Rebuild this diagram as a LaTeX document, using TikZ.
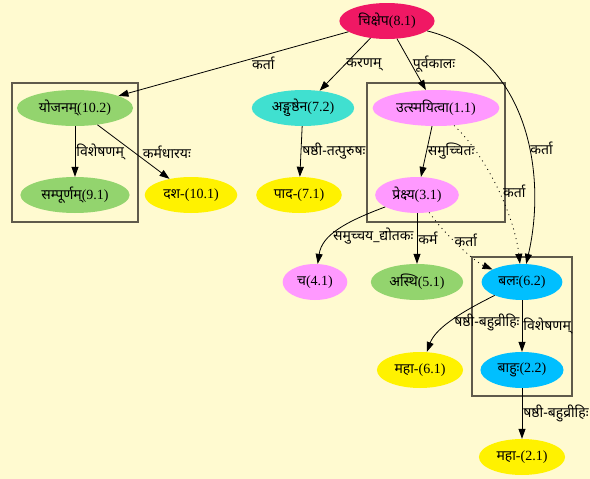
\documentclass[tikz,border=0pt]{standalone}
\usepackage{fontspec}
\setmainfont{Liberation Serif}
\newfontfamily\deva[Script=Devanagari]{Noto Sans}
\usetikzlibrary{shapes.geometric,arrows.meta}
\definecolor{bgyellow}{RGB}{255,250,208}
\definecolor{crimsonpink}{RGB}{240,24,100}
\definecolor{leafgreen}{RGB}{147,212,110}
\definecolor{turq}{RGB}{64,224,208}
\definecolor{violetpink}{RGB}{255,153,255}
\definecolor{skyblue}{RGB}{0,191,255}
\definecolor{clustergray}{RGB}{95,90,75}
\newcommand{\dv}[1]{{\deva #1}}
\tikzset{
  word/.style={ellipse, inner xsep=5pt, inner ysep=2pt, minimum height=36pt, font=\fontsize{14}{16}\selectfont},
  lbl/.style={font=\fontsize{14}{16}\selectfont, inner sep=1pt},
  rel/.style={-{Triangle[length=10pt,width=7pt]}, line width=0.8pt},
  dotrel/.style={rel, dash pattern=on 1pt off 4pt},
  cluster/.style={draw=clustergray, line width=1.2pt}
}
\begin{document}
\begin{tikzpicture}[x=1pt,y=-1pt]
\fill[bgyellow] (0,0) rectangle (590,479);
\useasboundingbox (0,0) rectangle (590,479);

\draw[cluster] (12,83) rectangle (138,222);
\draw[cluster] (367,83) rectangle (505,222);
\draw[cluster] (472,257) rectangle (572,396);

\node[word, fill=crimsonpink] (N81)  at (387,21)  {\dv{चिक्षेप}(8.1)};
\node[word, fill=leafgreen]   (N102) at (75,108)  {\dv{योजनम्}(10.2)};
\node[word, fill=turq]        (N72)  at (303,108) {\dv{अङ्गुष्ठेन}(7.2)};
\node[word, fill=violetpink]  (N11)  at (436,108) {\dv{उत्स्मयित्वा}(1.1)};
\node[word, fill=leafgreen]   (N91)  at (75,195)  {\dv{सम्पूर्णम्}(9.1)};
\node[word, fill=yellow]      (N101) at (191,195) {\dv{दश}-(10.1)};
\node[word, fill=yellow]      (N71)  at (299,195) {\dv{पाद}-(7.1)};
\node[word, fill=violetpink]  (N31)  at (417,195) {\dv{प्रेक्ष्य}(3.1)};
\node[word, fill=violetpink]  (N41)  at (315,282) {\dv{च}(4.1)};
\node[word, fill=leafgreen]   (N51)  at (417,282) {\dv{अस्थि}(5.1)};
\node[word, fill=skyblue]     (N62)  at (522,282) {\dv{बलः}(6.2)};
\node[word, fill=yellow]      (N61)  at (420,370) {\dv{महा}-(6.1)};
\node[word, fill=skyblue]     (N22)  at (522,370) {\dv{बाहुः}(2.2)};
\node[word, fill=yellow]      (N21)  at (522,457) {\dv{महा}-(2.1)};

\draw[rel] (N81) -- (N102) node[lbl, pos=0.37, below]{\dv{कर्ता}};
\draw[rel] (N81) -- (N72) node[lbl, midway, right]{\dv{करणम्}};
\draw[rel] (N81) -- (N11) node[lbl, midway, right]{\dv{पूर्वकालः}};
\draw[rel] (N81) .. controls (525,55) and (548,170) .. (N62) node[lbl, pos=0.6, right]{\dv{कर्ता}};
\draw[rel] (N102) -- (N91) node[lbl, midway, right]{\dv{विशेषणम्}};
\draw[rel] (N102) -- (N101) node[lbl, midway, right=8pt]{\dv{कर्मधारयः}};
\draw[rel] (N72) -- (N71) node[lbl, midway, right]{\dv{षष्ठी-तत्पुरुषः}};
\draw[rel] (N11) -- (N31) node[lbl, midway, right]{\dv{समुच्चितः}};
\draw[dotrel] (N11) .. controls (490,160) and (515,220) .. (N62) node[lbl, pos=0.5, right=3pt]{\dv{कर्ता}};
\draw[rel] (N31) .. controls (345,222) and (322,235) .. (N41) node[lbl, pos=0.6, right]{\dv{समुच्चय\_द्योतकः}};
\draw[rel] (N31) -- (N51) node[lbl, midway, right]{\dv{कर्म}};
\draw[dotrel] (N31) .. controls (445,235) and (475,262) .. (N62) node[lbl, pos=0.4, right]{\dv{कर्ता}};
\draw[rel] (N62) .. controls (455,315) and (435,330) .. (N61) node[lbl, pos=0.5, right=4pt]{\dv{षष्ठी-बहुव्रीहिः}};
\draw[rel] (N62) -- (N22) node[lbl, midway, right]{\dv{विशेषणम्}};
\draw[rel] (N22) -- (N21) node[lbl, midway, right]{\dv{षष्ठी-बहुव्रीहिः}};
\end{tikzpicture}
\end{document}
